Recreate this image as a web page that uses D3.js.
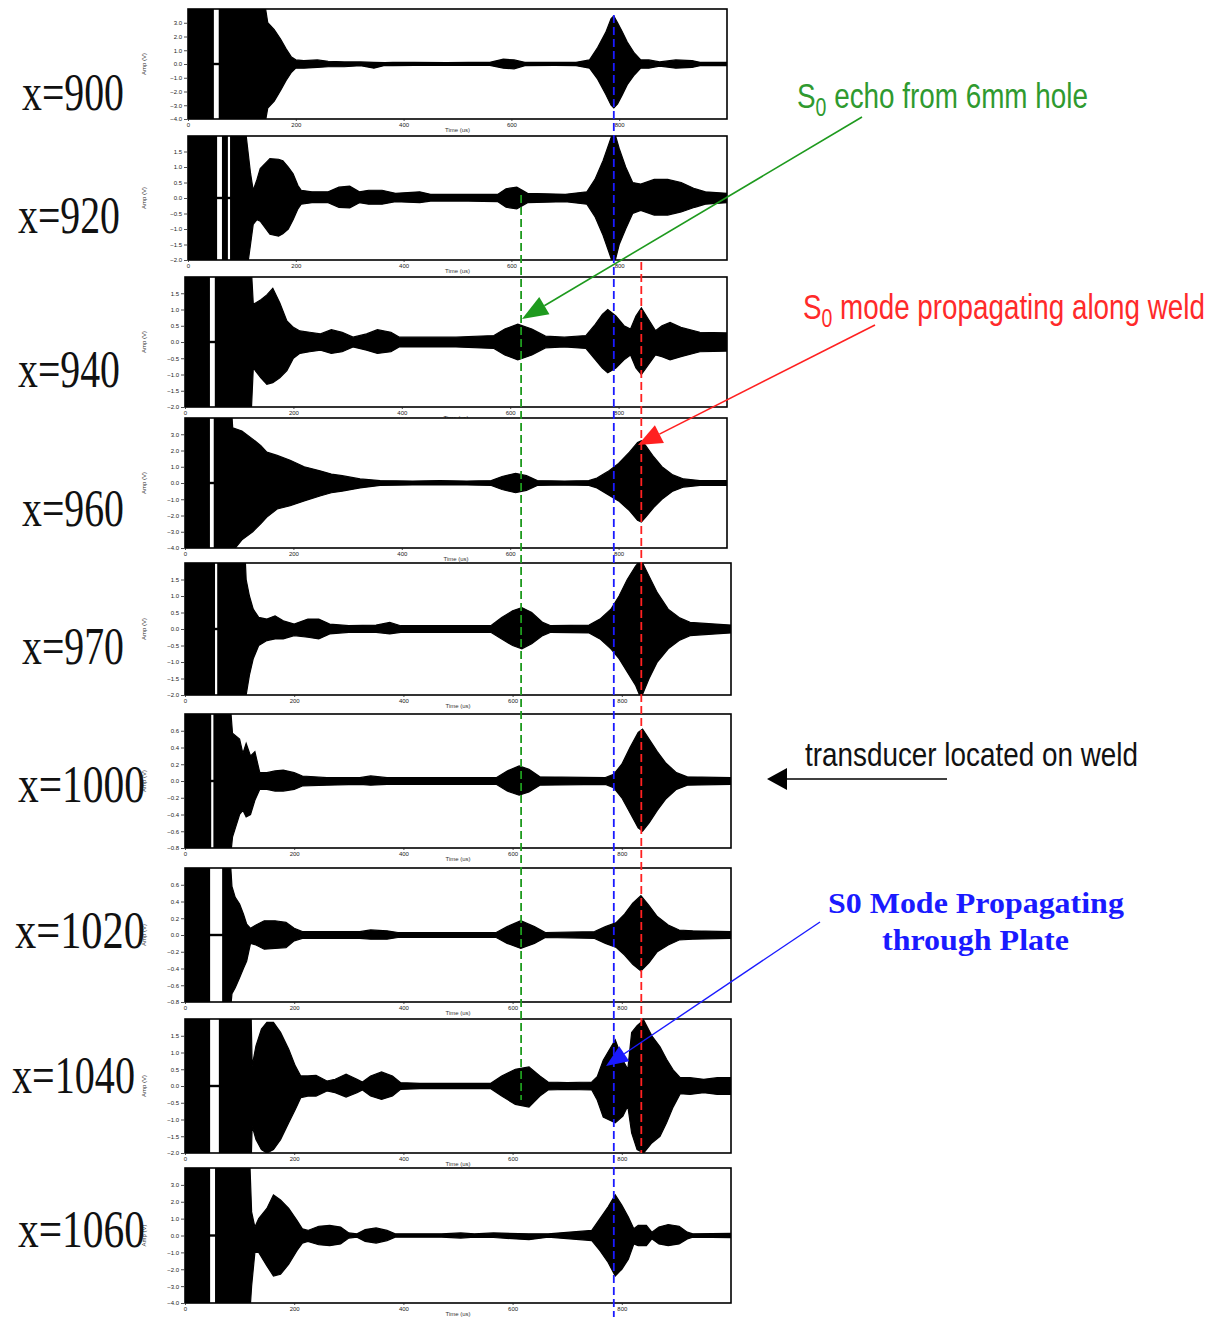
<!DOCTYPE html>
<html>
<head>
<meta charset="utf-8">
<script src="https://cdn.jsdelivr.net/npm/d3@7"></script>
<style>
  html, body { margin: 0; padding: 0; background: #fff; }
  svg { display: block; }
</style>
</head>
<body>
<svg id="chart" width="1221" height="1317"></svg>
<script>
// ---- Data -------------------------------------------------------------
// Transducer positions (mm along the plate), one trace each
const positions = ["x=900", "x=920", "x=940", "x=960", "x=970", "x=1000", "x=1020", "x=1040", "x=1060"];

// Time axis ticks (us)
const timeTicks = [0, 200, 400, 600, 800];

// Amplitude axis ticks (V) – three scale families
const ampTicksWide = [3, 2, 1, 0, -1, -2, -3, -4];
const ampTicksMid = [1.5, 1.0, 0.5, 0.0, -0.5, -1.0, -1.5, -2.0];
const ampTicksFine = [0.6, 0.4, 0.2, 0.0, -0.2, -0.4, -0.6, -0.8];

// Arrival times of the marked wave packets (us)
const arrivalEcho = 618;   // S0 echo from 6 mm hole
const arrivalPlate = 790;  // S0 through plate
const arrivalWeld = 841;   // S0 along weld

// Signal envelopes: [time us, upper V, lower V]
const env900 = [
  [0,5,-5],[140,5,-5],[148,3.0,-3.2],[160,2.5,-2.7],[172,1.8,-1.9],[182,1.1,-1.2],[192,0.5,-0.6],
  [200,0.3,-0.3],[215,0.25,-0.3],[240,0.3,-0.25],[260,0.2,-0.2],[290,0.15,-0.2],[320,0.15,-0.12],
  [345,0.12,-0.3],[365,0.1,-0.1],[380,0.12,-0.12],[420,0.12,-0.1],[480,0.1,-0.1],[520,0.12,-0.1],
  [560,0.12,-0.1],[585,0.35,-0.3],[605,0.3,-0.35],[625,0.12,-0.12],[680,0.12,-0.1],[720,0.12,-0.12],
  [745,0.3,-0.3],[760,1.2,-1.1],[775,2.3,-2.2],[785,3.3,-3.0],[790,3.5,-3.2],[797,3.0,-2.9],
  [805,2.4,-2.3],[815,1.6,-1.5],[828,0.8,-0.8],[840,0.3,-0.3],[855,0.3,-0.3],[875,0.15,-0.15],
  [905,0.3,-0.3],[935,0.25,-0.25],[950,0.12,-0.12],[1000,0.12,-0.12]
];
const env920 = [
  [0,3,-3],[100,3,-3],[108,2.0,-2.5],[116,0.8,-1.5],[121,0.25,-0.85],[128,0.6,-0.7],[134,0.95,-0.75],
  [152,1.27,-1.17],[168,1.25,-1.23],[176,1.2,-1.15],[186,1.0,-1.0],[195,0.78,-0.7],[204,0.4,-0.35],
  [210,0.25,-0.2],[230,0.2,-0.15],[260,0.2,-0.15],[280,0.35,-0.3],[300,0.38,-0.32],[318,0.2,-0.15],
  [335,0.25,-0.2],[360,0.25,-0.2],[385,0.15,-0.12],[430,0.2,-0.15],[450,0.12,-0.1],[520,0.12,-0.1],
  [575,0.12,-0.12],[590,0.3,-0.3],[610,0.35,-0.35],[630,0.15,-0.15],[700,0.12,-0.12],[740,0.2,-0.2],
  [755,0.6,-0.6],[770,1.2,-1.2],[782,1.8,-1.8],[790,2.2,-2.2],[800,1.6,-1.5],[812,1.0,-1.0],
  [825,0.5,-0.5],[840,0.45,-0.4],[865,0.6,-0.55],[890,0.6,-0.55],[915,0.5,-0.45],[940,0.3,-0.3],
  [960,0.2,-0.2],[1000,0.15,-0.15]
];
const env940 = [
  [0,3,-3],[120,3,-3],[126,1.16,-0.8],[140,1.3,-1.1],[151,1.45,-1.3],[162,1.65,-1.25],[175,1.2,-1.1],
  [188,0.65,-0.88],[200,0.45,-0.5],[212,0.34,-0.35],[230,0.3,-0.3],[250,0.25,-0.25],[270,0.38,-0.35],
  [290,0.3,-0.3],[310,0.15,-0.15],[335,0.25,-0.25],[355,0.38,-0.35],[380,0.3,-0.3],[395,0.15,-0.15],
  [450,0.15,-0.15],[500,0.15,-0.15],[570,0.2,-0.2],[590,0.4,-0.4],[614,0.55,-0.55],[640,0.4,-0.4],
  [665,0.18,-0.18],[700,0.15,-0.15],[740,0.2,-0.2],[755,0.5,-0.5],[770,0.85,-0.8],[780,1.0,-0.95],
  [795,0.8,-0.8],[810,0.5,-0.55],[822,0.4,-0.4],[832,0.8,-0.8],[842,1.05,-1.0],[855,0.7,-0.7],
  [868,0.35,-0.4],[880,0.5,-0.45],[895,0.6,-0.55],[915,0.45,-0.45],[950,0.3,-0.3],[1000,0.28,-0.28]
];
const env960 = [
  [0,5,-5],[85,5,-5],[88,3.4,-4.2],[105,3.2,-3.5],[125,2.7,-3.0],[140,2.3,-2.5],[151,1.9,-2.1],
  [170,1.7,-1.6],[194,1.4,-1.4],[220,1.0,-1.1],[249,0.75,-0.8],[270,0.55,-0.6],[290,0.45,-0.5],
  [323,0.25,-0.3],[360,0.15,-0.15],[420,0.12,-0.12],[470,0.15,-0.12],[520,0.12,-0.12],[565,0.15,-0.15],
  [585,0.4,-0.4],[610,0.6,-0.6],[630,0.45,-0.45],[650,0.15,-0.15],[700,0.12,-0.12],[745,0.15,-0.15],
  [760,0.3,-0.3],[780,0.7,-0.7],[800,1.2,-1.1],[820,1.9,-1.7],[835,2.5,-2.3],[842,2.6,-2.4],
  [850,2.3,-2.1],[865,1.6,-1.5],[880,1.0,-1.0],[900,0.5,-0.5],[920,0.25,-0.25],[950,0.15,-0.15],
  [1000,0.15,-0.15]
];
const env970 = [
  [0,3,-3],[108,3,-3],[112,1.5,-2.0],[118,1.0,-1.4],[125,0.6,-0.9],[135,0.35,-0.5],[150,0.3,-0.35],
  [165,0.4,-0.3],[180,0.25,-0.3],[200,0.15,-0.2],[225,0.3,-0.25],[245,0.3,-0.3],[265,0.15,-0.15],
  [300,0.1,-0.1],[350,0.12,-0.1],[375,0.2,-0.15],[395,0.1,-0.1],[560,0.1,-0.1],[580,0.35,-0.3],
  [600,0.55,-0.5],[617,0.65,-0.6],[635,0.5,-0.45],[655,0.2,-0.2],[670,0.1,-0.1],[740,0.12,-0.12],
  [760,0.3,-0.3],[780,0.6,-0.6],[795,1.0,-0.9],[810,1.5,-1.3],[825,1.9,-1.7],[835,2.1,-2.1],
  [850,1.6,-1.5],[865,1.1,-1.0],[885,0.6,-0.6],[905,0.35,-0.35],[925,0.2,-0.2],[1000,0.12,-0.12]
];
const env1000 = [
  [0,1,-1],[82,1,-1],[87,0.57,-0.67],[100,0.5,-0.4],[106,0.33,-0.35],[112,0.45,-0.43],[120,0.3,-0.4],
  [128,0.35,-0.23],[137,0.1,-0.1],[150,0.1,-0.1],[165,0.12,-0.12],[180,0.13,-0.12],[200,0.1,-0.1],
  [215,0.06,-0.06],[260,0.04,-0.05],[320,0.04,-0.04],[340,0.06,-0.05],[370,0.04,-0.04],[570,0.04,-0.04],
  [590,0.12,-0.12],[612,0.18,-0.17],[630,0.14,-0.13],[650,0.05,-0.05],[770,0.04,-0.04],[785,0.08,-0.08],
  [800,0.2,-0.2],[815,0.4,-0.38],[830,0.58,-0.56],[838,0.62,-0.6],[850,0.5,-0.5],[865,0.35,-0.35],
  [880,0.22,-0.22],[900,0.1,-0.1],[920,0.05,-0.05],[1000,0.04,-0.04]
];
const env1020 = [
  [0,1,-1],[82,1,-1],[86,0.58,-0.7],[92,0.45,-0.63],[100,0.37,-0.51],[107,0.25,-0.4],[113,0.13,-0.31],
  [120,0.08,-0.1],[130,0.12,-0.12],[145,0.17,-0.17],[165,0.17,-0.16],[185,0.15,-0.15],[200,0.08,-0.07],
  [215,0.04,-0.04],[320,0.04,-0.04],[340,0.06,-0.05],[370,0.05,-0.05],[390,0.03,-0.03],[570,0.03,-0.03],
  [590,0.1,-0.1],[615,0.17,-0.16],[640,0.1,-0.1],[660,0.03,-0.03],[750,0.04,-0.04],[770,0.1,-0.1],
  [790,0.15,-0.15],[805,0.25,-0.24],[820,0.38,-0.35],[835,0.47,-0.43],[850,0.35,-0.33],[865,0.22,-0.2],
  [885,0.12,-0.12],[905,0.06,-0.06],[930,0.05,-0.05],[1000,0.04,-0.04]
];
const env1040 = [
  [0,3,-3],[120,3,-3],[123,0.6,-1.2],[130,1.2,-1.6],[140,1.7,-1.9],[150,1.9,-2.0],[162,1.9,-1.9],
  [175,1.6,-1.6],[190,1.1,-1.1],[202,0.6,-0.7],[212,0.3,-0.35],[225,0.3,-0.3],[240,0.32,-0.3],
  [260,0.15,-0.15],[275,0.2,-0.2],[295,0.35,-0.33],[315,0.2,-0.2],[325,0.12,-0.12],[340,0.3,-0.3],
  [360,0.42,-0.4],[380,0.3,-0.3],[395,0.1,-0.1],[430,0.08,-0.08],[480,0.08,-0.08],[560,0.08,-0.08],
  [580,0.3,-0.3],[605,0.5,-0.55],[630,0.57,-0.63],[650,0.3,-0.3],[665,0.12,-0.12],[700,0.1,-0.1],
  [745,0.12,-0.12],[755,0.28,-0.42],[766,0.77,-0.93],[788,1.38,-1.1],[802,0.77,-0.9],[811,0.5,-0.6],
  [818,1.6,-1.4],[828,1.8,-1.9],[840,1.97,-2.0],[855,1.5,-1.7],[870,1.17,-1.5],[882,0.8,-1.1],
  [894,0.48,-0.63],[907,0.25,-0.23],[925,0.25,-0.25],[950,0.2,-0.2],[975,0.25,-0.25],[1000,0.25,-0.25]
];
const env1060 = [
  [0,5,-5],[118,5,-5],[122,1.4,-3.0],[128,0.5,-1.0],[135,1.0,-1.0],[150,1.6,-1.8],[162,2.4,-2.4],
  [175,2.1,-2.3],[190,1.6,-1.7],[205,0.9,-0.9],[215,0.4,-0.45],[225,0.3,-0.35],[245,0.55,-0.55],
  [265,0.6,-0.6],[285,0.5,-0.5],[300,0.15,-0.15],[315,0.1,-0.1],[330,0.35,-0.35],[350,0.45,-0.45],
  [370,0.3,-0.3],[385,0.1,-0.1],[470,0.1,-0.1],[505,0.15,-0.15],[530,0.1,-0.1],[565,0.15,-0.12],
  [630,0.1,-0.25],[665,0.1,-0.1],[745,0.3,-0.3],[760,1.0,-0.9],[775,1.7,-1.6],[788,2.4,-2.4],
  [800,1.8,-2.0],[812,1.1,-1.4],[822,0.4,-0.5],[830,0.6,-0.6],[845,0.6,-0.6],[855,0.2,-0.2],
  [868,0.5,-0.5],[885,0.65,-0.6],[905,0.55,-0.5],[920,0.2,-0.2],[930,0.1,-0.1],[1000,0.12,-0.12]
];

// Short dropouts inside the saturated start of each record: [from us, to us]
const gaps900 = [[48, 57]];
const gaps920 = [[54, 63], [74, 78]];
const gaps940 = [[46, 55]];
const gaps960 = [[46, 53]];
const gaps970 = [[55, 59]];
const gaps1000 = [[48, 52]];
const gaps1020 = [[46, 68]];
const gaps1040 = [[46, 62]];
const gaps1060 = [[46, 55]];

// ---- Layout -----------------------------------------------------------
const panels = [
  { name: positions[0], env: env900,  gaps: gaps900,  ticks: ampTicksWide, dom: [-4, 4],     box: [188, 727, 9, 119],    lab: [22, 110, 102] },
  { name: positions[1], env: env920,  gaps: gaps920,  ticks: ampTicksMid,  dom: [-2, 2],     box: [188, 727, 136, 260],  lab: [18, 233, 102] },
  { name: positions[2], env: env940,  gaps: gaps940,  ticks: ampTicksMid,  dom: [-2, 2],     box: [185, 727, 277, 407],  lab: [18, 387, 102] },
  { name: positions[3], env: env960,  gaps: gaps960,  ticks: ampTicksWide, dom: [-4, 4],     box: [185, 727, 418, 548],  lab: [22, 526, 102] },
  { name: positions[4], env: env970,  gaps: gaps970,  ticks: ampTicksMid,  dom: [-2, 2],     box: [185, 731, 563, 695],  lab: [22, 664, 102] },
  { name: positions[5], env: env1000, gaps: gaps1000, ticks: ampTicksFine, dom: [-0.8, 0.8], box: [185, 731, 714, 848],  lab: [18, 802, 127] },
  { name: positions[6], env: env1020, gaps: gaps1020, ticks: ampTicksFine, dom: [-0.8, 0.8], box: [185, 731, 868, 1002], lab: [15, 948, 130] },
  { name: positions[7], env: env1040, gaps: gaps1040, ticks: ampTicksMid,  dom: [-2, 2],     box: [185, 731, 1019, 1153], lab: [12, 1093, 123] },
  { name: positions[8], env: env1060, gaps: gaps1060, ticks: ampTicksWide, dom: [-4, 4],     box: [185, 731, 1168, 1303], lab: [18, 1247, 127] }
];

const svg = d3.select("#chart");
svg.append("rect").attr("width", 1221).attr("height", 1317).attr("fill", "#fff");
const defs = svg.append("defs");

const tickFont = "Liberation Sans, Arial, sans-serif";
const serif = "Liberation Serif, Times New Roman, serif";

// Place a text at (x, y) and squeeze/stretch it horizontally to a given width
function fitText(sel, x, y, width) {
  const w = sel.node().getComputedTextLength();
  const sx = w > 0 ? width / w : 1;
  sel.attr("x", 0).attr("y", 0)
     .attr("transform", `translate(${x},${y}) scale(${sx},1)`);
  return sel;
}

panels.forEach((p, i) => {
  const [L, R, T, B] = p.box;
  const x = d3.scaleLinear().domain([0, 1000]).range([L, R]);
  const y = d3.scaleLinear().domain(p.dom).range([B, T]);
  const g = svg.append("g").attr("class", "panel");

  // white panel background so each record sits over the one above
  g.append("rect").attr("x", L).attr("y", T).attr("width", R - L).attr("height", B - T).attr("fill", "#fff");

  defs.append("clipPath").attr("id", "clip" + i)
    .append("rect").attr("x", L).attr("y", T).attr("width", R - L).attr("height", B - T);

  const plot = g.append("g").attr("clip-path", `url(#clip${i})`);

  const area = d3.area()
    .x(d => x(d[0]))
    .y0(d => y(d[2]))
    .y1(d => y(d[1]));

  plot.append("path")
    .datum(p.env)
    .attr("d", area)
    .attr("fill", "#000")
    .attr("stroke", "#000")
    .attr("stroke-width", 1.2)
    .attr("stroke-linejoin", "miter");

  // zero trace through the record
  plot.append("line")
    .attr("x1", L).attr("x2", R)
    .attr("y1", y(0)).attr("y2", y(0))
    .attr("stroke", "#000").attr("stroke-width", 1.6);

  // dropouts (white columns with the zero trace kept)
  p.gaps.forEach(gp => {
    const x0 = x(gp[0]), x1 = x(gp[1]);
    plot.append("rect").attr("x", x0).attr("y", T).attr("width", x1 - x0).attr("height", y(0) - 1.2 - T).attr("fill", "#fff");
    plot.append("rect").attr("x", x0).attr("y", y(0) + 1.2).attr("width", x1 - x0).attr("height", B - y(0) - 1.2).attr("fill", "#fff");
  });

  // frame
  g.append("rect").attr("x", L).attr("y", T).attr("width", R - L).attr("height", B - T)
    .attr("fill", "none").attr("stroke", "#000").attr("stroke-width", 1.6);

  // amplitude axis
  const yAxis = d3.axisLeft(y).tickValues(p.ticks).tickSize(3).tickPadding(2)
    .tickFormat(d3.format(".1f"));
  const ya = g.append("g").attr("transform", `translate(${L - 1},0)`).call(yAxis);
  ya.select(".domain").remove();
  ya.selectAll("line").attr("stroke", "#222").attr("stroke-width", 0.8);
  ya.selectAll("text").attr("font-family", tickFont).attr("font-size", 6).attr("fill", "#222");

  // time axis
  const xAxis = d3.axisBottom(x).tickValues(timeTicks).tickSize(2).tickPadding(2).tickFormat(d3.format("d"));
  const xa = g.append("g").attr("transform", `translate(0,${B})`).call(xAxis);
  xa.select(".domain").remove();
  xa.selectAll("line").attr("stroke", "#222").attr("stroke-width", 0.8);
  xa.selectAll("text").attr("font-family", tickFont).attr("font-size", 6).attr("fill", "#222");

  g.append("text")
    .attr("x", x(500)).attr("y", B + 13)
    .attr("text-anchor", "middle")
    .attr("font-family", tickFont).attr("font-size", 6).attr("fill", "#333")
    .text("Time (us)");

  g.append("text")
    .attr("transform", `translate(146,${(T + B) / 2}) rotate(-90)`)
    .attr("text-anchor", "middle")
    .attr("font-family", tickFont).attr("font-size", 6).attr("fill", "#333")
    .text("Amp (V)");

  // position label
  const lab = g.append("text")
    .attr("font-family", serif)
    .attr("font-size", 53)
    .attr("fill", "#111")
    .text(p.name);
  fitText(lab, p.lab[0], p.lab[1], p.lab[2]);
});

// ---- Arrival guides -----------------------------------------------------
const xRef = d3.scaleLinear().domain([0, 1000]).range([panels[0].box[0], panels[0].box[1]]);
const guides = [
  { t: arrivalEcho,  color: "#1e9a1e", y0: 195, y1: 1100 },
  { t: arrivalPlate, color: "#1a1aff", y0: 15,  y1: 1317 },
  { t: arrivalWeld,  color: "#ff2020", y0: 262, y1: 1153 }
];
guides.forEach(gd => {
  svg.append("line")
    .attr("x1", xRef(gd.t)).attr("x2", xRef(gd.t))
    .attr("y1", gd.y0).attr("y2", gd.y1)
    .attr("stroke", gd.color).attr("stroke-width", 1.8)
    .attr("stroke-dasharray", "8,4");
});

// ---- Annotations --------------------------------------------------------
function arrow(x1, y1, x2, y2, color, len, half, width) {
  const a = Math.atan2(y2 - y1, x2 - x1);
  const bx = x2 - len * Math.cos(a), by = y2 - len * Math.sin(a);
  svg.append("line").attr("x1", x1).attr("y1", y1).attr("x2", bx).attr("y2", by)
    .attr("stroke", color).attr("stroke-width", width);
  const px = -Math.sin(a) * half, py = Math.cos(a) * half;
  svg.append("path")
    .attr("d", `M${x2},${y2}L${bx + px},${by + py}L${bx - px},${by - py}Z`)
    .attr("fill", color);
}

function narrowLabel(x, y, w, size, color, main, sub, rest) {
  const t = svg.append("text")
    .attr("font-family", "Liberation Sans, Arial, sans-serif")
    .attr("font-size", size).attr("fill", color);
  t.append("tspan").text(main);
  if (sub) {
    t.append("tspan").attr("dy", size * 0.22).attr("font-size", size * 0.7).text(sub);
    t.append("tspan").attr("dy", -size * 0.22).text(rest);
  }
  return fitText(t, x, y, w);
}

narrowLabel(797, 108, 291, 36, "#2f9a2f", "S", "0", " echo from 6mm hole");
arrow(862, 117, 522, 319, "#1e9a1e", 26, 10, 1.6);

narrowLabel(803, 319, 402, 36, "#ff2a2a", "S", "0", " mode propagating along weld");
arrow(875, 325, 638, 445, "#ff2020", 24, 10, 1.6);

narrowLabel(805, 766, 333, 34, "#111", "transducer located on weld");
arrow(947, 779, 767, 779, "#000", 20, 11, 1.6);

const blue1 = svg.append("text")
  .attr("font-family", serif).attr("font-weight", "bold").attr("font-size", 30).attr("fill", "#1a1aff")
  .text("S0 Mode Propagating");
fitText(blue1, 828, 913, 296);
const blue2 = svg.append("text")
  .attr("font-family", serif).attr("font-weight", "bold").attr("font-size", 30).attr("fill", "#1a1aff")
  .text("through Plate");
fitText(blue2, 882, 950, 187);
arrow(820, 922, 606, 1066, "#1a1aff", 22, 9, 1.4);
</script>
</body>
</html>
